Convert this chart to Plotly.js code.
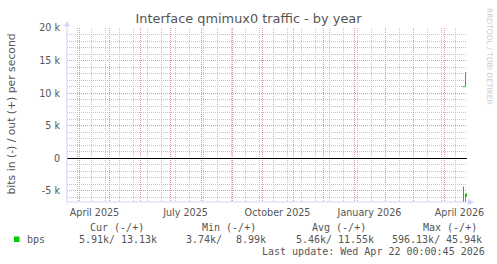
<!DOCTYPE html>
<html>
<head>
<meta charset="utf-8">
<script src="https://cdn.plot.ly/plotly-3.0.1.min.js"></script>
<style>
html,body{margin:0;padding:0;background:#fff;}
#chart{width:497px;height:264px;}
.gridlayer path, .minor-gridlayer path, .zerolinelayer path { shape-rendering: crispEdges !important; }
</style>
</head>
<body>
<div id="chart"></div>
<script>
// ---- data ----
const days = ["2026-04-19", "2026-04-20", "2026-04-21", "2026-04-22", "2026-04-23"];
const outBps = [11000, 11000, 11000, 13130, 13130];
const inBps = [4400, 9000, 9000, 5450, 5910];

const xLabelMonths = ["2025-04-01", "2025-07-01", "2025-10-01", "2026-01-01", "2026-04-01"];
const xLabelText = ["April 2025", "July 2025", "October 2025", "January 2026", "April 2026"];
const yTickVals = [-5000, 0, 5000, 10000, 15000, 20000];
const yTickText = ["-5 k", "0", "5 k", "10 k", "15 k", "20 k"];

const statNames = ["Cur (-/+)", "Min (-/+)", "Avg (-/+)", "Max (-/+)"];
const inStats = ["5.91k/", "3.74k/", "5.46k/", "596.13k/"];
const outStats = ["13.13k", "8.99k", "11.55k", "45.94k"];
const seriesName = "bps";
const lastUpdate = "Last update: Wed Apr 22 00:00:45 2026";

// ---- layout helpers ----
const W = 497, H = 264, L = 67, R = 467, T = 28, B = 202;
const px = x => (x - L) / (R - L);
const py = y => (B - y) / (B - T);
const nb = s => s.replace(/ /g, "\u00a0");

const RED = "#e49696", GRAY = "#c6c6c6", AXIS = "#CFD6F8", TXT = "#555555", GREEN = "#00cc00";
const mono = {family: "DejaVu Sans Mono", size: 10, color: TXT};
const sans = {family: "DejaVu Sans", size: 9.6, color: TXT};

// month-start grid positions over the visible range; labels only where given
const monthTicks = [], monthText = [];
for (let y = 2025, m = 3; ; m++) {
  if (m > 12) { m = 1; y++; }
  const d = `${y}-${String(m).padStart(2, "0")}-01`;
  monthTicks.push(d);
  const k = xLabelMonths.indexOf(d);
  monthText.push(k >= 0 ? xLabelText[k] : "");
  if (y === 2026 && m === 4) break;
}

const traces = [
  {x: days, y: inBps.map(v => -v), type: "scatter", mode: "lines",
   line: {color: GREEN, width: 1, shape: "hv"}, hoverinfo: "skip"},
  {x: days, y: outBps, type: "scatter", mode: "lines",
   line: {color: GREEN, width: 1, shape: "hv"}, hoverinfo: "skip"}
];

const xr = ["2025-03-19 12:00", "2026-04-23 12:00"];
const ann = [];
const PADL = 1.3;
const colHeadX = [89.3, 201, 311.7, 422.7];
const colInX = [78.3, 185.7, 295, 391.7];
const colOutX = [157.3, 266.7, 375, 482.3];
statNames.forEach((s, i) => {
  ann.push({xref: "paper", yref: "paper", x: px(colHeadX[i] - PADL), y: py(227.7), xanchor: "left", yanchor: "middle",
            text: nb(s), showarrow: false, font: mono});
  ann.push({xref: "paper", yref: "paper", x: px(colInX[i] - PADL), y: py(239.3), xanchor: "left", yanchor: "middle",
            text: nb(inStats[i]), showarrow: false, font: mono});
  ann.push({xref: "paper", yref: "paper", x: px(colOutX[i] + PADL), y: py(239.3), xanchor: "right", yanchor: "middle",
            text: nb(outStats[i]), showarrow: false, font: mono});
});
ann.push({xref: "paper", yref: "paper", x: px(26.7 - PADL), y: py(239.3), xanchor: "left", yanchor: "middle",
          text: seriesName, showarrow: false, font: mono});
ann.push({xref: "paper", yref: "paper", x: px(261.7 - PADL), y: py(251), xanchor: "left", yanchor: "middle",
          text: nb(lastUpdate), showarrow: false, font: mono});
ann.push({xref: "paper", yref: "paper", x: px(11), y: py(114.5), xanchor: "center", yanchor: "middle",
          text: "bits in (-) / out (+) per second", textangle: -90, showarrow: false,
          font: {family: "DejaVu Sans", size: 10.8, color: TXT}});
ann.push({xref: "paper", yref: "paper", x: px(490), y: py(56), xanchor: "center", yanchor: "middle",
          text: "RRDTOOL / TOBI OETIKER", textangle: 90, showarrow: false,
          font: {family: "DejaVu Sans", size: 7.5, color: "#cccccc"}});

const shapes = [
  {type: "line", xref: "paper", yref: "paper", x0: px(67), x1: px(67), y0: py(202.5), y1: py(24), line: {color: AXIS, width: 1}},
  {type: "path", xref: "paper", yref: "paper",
   path: `M ${px(64)} ${py(26.5)} L ${px(70)} ${py(26.5)} L ${px(67)} ${py(21)} Z`, fillcolor: AXIS, line: {width: 0}},
  {type: "line", xref: "paper", yref: "paper", x0: px(66.5), x1: px(470), y0: py(202), y1: py(202), line: {color: AXIS, width: 1}},
  {type: "path", xref: "paper", yref: "paper",
   path: `M ${px(468)} ${py(199)} L ${px(468)} ${py(205)} L ${px(474)} ${py(202)} Z`, fillcolor: AXIS, line: {width: 0}},
  {type: "rect", xref: "paper", yref: "paper", x0: px(14), x1: px(19.5), y0: py(242), y1: py(236.5), fillcolor: GREEN, line: {width: 0}}
];

const layout = {
  width: W, height: H,
  paper_bgcolor: "#ffffff", plot_bgcolor: "#ffffff",
  margin: {l: L, r: W - R, t: T, b: H - B, pad: 0},
  showlegend: false,
  title: {text: "Interface qmimux0 traffic - by year", font: {family: "DejaVu Sans", size: 12.9, color: TXT},
          x: 0.5, xref: "container", xanchor: "center", y: 1 - 18.5 / H, yref: "container", yanchor: "middle"},
  xaxis: {type: "date", range: xr, showgrid: true, gridcolor: RED, griddash: "1px,1px", gridwidth: 1,
          tickmode: "array", tickvals: monthTicks, ticktext: monthText, ticks: "",
          tickfont: sans, ticklabelstandoff: 3, ticklabelshift: 15,
          zeroline: false, showline: false, fixedrange: true,
          minor: {tickmode: "linear", tick0: "2025-03-30", dtick: 14 * 86400000, showgrid: true,
                  gridcolor: GRAY, griddash: "1px,1px", gridwidth: 1, ticks: ""}},
  yaxis: {range: [-6710, 20000], tickmode: "array", tickvals: yTickVals, ticktext: yTickText,
          showgrid: true, gridcolor: RED, griddash: "1px,1px", gridwidth: 1,
          zeroline: true, zerolinecolor: "#000000", zerolinewidth: 1,
          showline: false, ticks: "", tickfont: sans, ticklabelstandoff: 6, fixedrange: true,
          minor: {tickmode: "linear", tick0: 0, dtick: 1000, showgrid: true, gridcolor: GRAY,
                  griddash: "1px,1px", gridwidth: 1, ticks: ""}},
  annotations: ann,
  shapes: shapes
};

Plotly.newPlot("chart", traces, layout, {displayModeBar: false, staticPlot: true});
</script>
</body>
</html>
